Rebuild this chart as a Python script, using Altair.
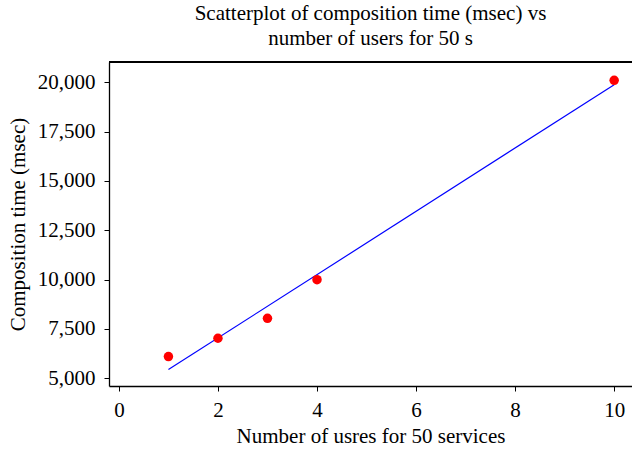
import altair as alt
import pandas as pd

users = [1, 2, 3, 4, 10]
comp_time = [6100, 7030, 8040, 10000, 20100]

df = pd.DataFrame({"users": users, "time": comp_time})

W, H = 523, 324
FONT = "Liberation Serif"

x_scale = alt.Scale(domain=[-0.2, 10.36], nice=False, zero=False)
y_scale = alt.Scale(domain=[4610, 21030], nice=False, zero=False)

base = alt.Chart(df)

points = base.mark_circle(size=90, color="#ff0000", opacity=1).encode(
    x=alt.X("users:Q", scale=x_scale,
            axis=alt.Axis(title="Number of usres for 50 services",
                          values=[0, 2, 4, 6, 8, 10], grid=False,
                          labelPadding=8, titlePadding=5)),
    y=alt.Y("time:Q", scale=y_scale,
            axis=alt.Axis(title="Composition time (msec)",
                          values=[5000, 7500, 10000, 12500, 15000, 17500, 20000],
                          format=",d", grid=False,
                          labelPadding=9, titlePadding=9)),
)

line = base.transform_regression("users", "time").mark_line(
    color="#0000ff", strokeWidth=1.2
).encode(
    x=alt.X("users:Q", scale=x_scale),
    y=alt.Y("time:Q", scale=y_scale),
)

top = alt.Chart(df).mark_rule(color="black", strokeWidth=1.3).encode(
    x=alt.value(0), x2=alt.value(W + 5), y=alt.value(0)
)

chart = alt.layer(line, points, top).properties(
    width=W, height=H,
    autosize=alt.AutoSizeParams(type="none"),
    padding={"left": 109, "top": 62, "right": 0, "bottom": 64},
    title=alt.Title(["Scatterplot of composition time (msec) vs",
                     "number of users for 50 s"],
                    font=FONT, fontSize=21, fontWeight="normal",
                    lineHeight=25, anchor="middle", offset=12, color="black"),
).configure(font=FONT).configure_view(stroke=None).configure_axis(
    labelFont=FONT, titleFont=FONT, labelFontSize=21, titleFontSize=21,
    titleFontWeight="normal", labelColor="black", titleColor="black",
    domainColor="black", tickColor="black", domainWidth=1.3,
    tickSize=5,
)

chart.save("out.html", embed_options={"renderer": "svg", "actions": False})
